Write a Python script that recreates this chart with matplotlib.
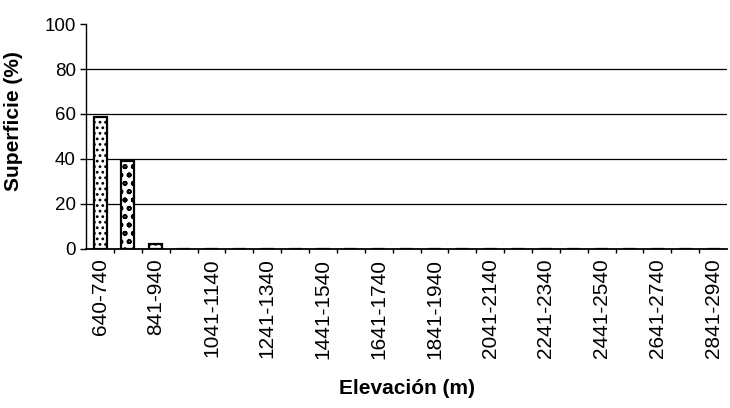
import numpy as np
import matplotlib
matplotlib.use('Agg')
import matplotlib.pyplot as plt

# Datos: superficie (%) por rango de elevación
rangos = ['640-740', '741-840', '841-940', '941-1040', '1041-1140', '1141-1240',
          '1241-1340', '1341-1440', '1441-1540', '1541-1640', '1641-1740',
          '1741-1840', '1841-1940', '1941-2040', '2041-2140', '2141-2240',
          '2241-2340', '2341-2440', '2441-2540', '2541-2640', '2641-2740',
          '2741-2840', '2841-2940']
superficie = [58.5, 39.3, 2.2, 0, 0, 0, 0, 0, 0, 0, 0, 0,
              0, 0, 0, 0, 0, 0, 0, 0, 0, 0, 0]
tramas = ['...', 'oo', '...']

plt.rcParams['font.family'] = ['Liberation Sans', 'DejaVu Sans']
plt.rcParams['hatch.linewidth'] = 1.2

fig = plt.figure(figsize=(7.3, 4.08), dpi=100)
ax = fig.add_axes([0.118, 0.39, 0.878, 0.551])

x = np.arange(len(rangos))
bars = ax.bar(x, superficie, width=0.47, color='white', edgecolor='black',
              linewidth=1.6, zorder=3)
for i, b in enumerate(bars):
    if i < len(tramas):
        b.set_hatch(tramas[i])

ax.set_xlim(-0.5, len(rangos) - 0.5)
ax.set_ylim(0, 100)
ax.set_yticks(np.arange(0, 101, 20))
ax.tick_params(axis='y', labelsize=13.5, length=4, width=1, direction='out')

# etiquetas cada dos categorías
ax.set_xticks(x[::2])
ax.set_xticklabels(rangos[::2], rotation=90, fontsize=15)
ax.tick_params(axis='x', length=0, pad=7)
ax.set_xticks(x[:-1] + 0.5, minor=True)
ax.tick_params(axis='x', which='minor', length=3, width=1, direction='out')

ax.yaxis.grid(True, color='black', linewidth=0.9)
ax.set_axisbelow(True)
ax.get_ygridlines()[-1].set_visible(False)
ax.get_ygridlines()[0].set_visible(False)

for s in ['top', 'right']:
    ax.spines[s].set_visible(False)
ax.spines['left'].set_linewidth(1)
ax.spines['bottom'].set_linewidth(1.3)

ax.set_xlabel('Elevación (m)', fontsize=15, fontweight='bold')
ax.set_ylabel('Superficie (%)', fontsize=15, fontweight='bold')
ax.xaxis.set_label_coords(0.5, -0.58)
ax.yaxis.set_label_coords(-0.098, 0.57)

fig.savefig('out.png', dpi=100)
